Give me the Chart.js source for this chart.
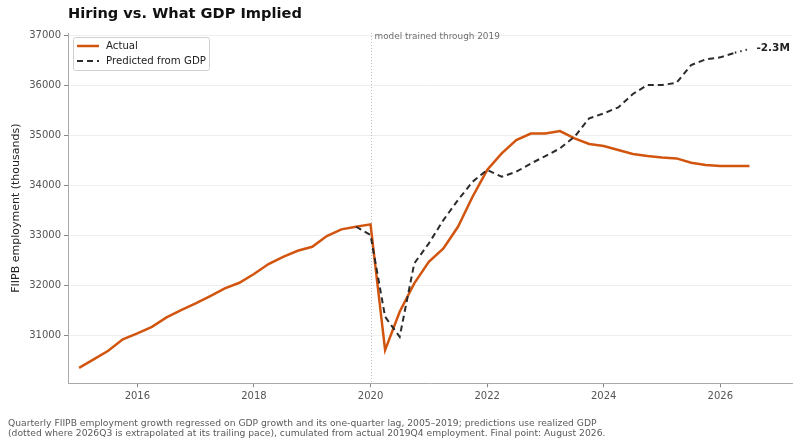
<!DOCTYPE html>
<html>
<head>
<meta charset="utf-8">
<title>Hiring vs. What GDP Implied</title>
<script src="https://cdn.jsdelivr.net/npm/chart.js@4.4.1/dist/chart.umd.min.js"></script>
<style>
  html, body { margin: 0; padding: 0; background: #fff; }
  canvas { display: block; }
</style>
</head>
<body>
<canvas id="chart" width="800" height="447"></canvas>
<script>
(function () {
  'use strict';

  /* Data (thousands of jobs, quarterly) */
  var ACTUAL_QUARTERS = [
    '2015Q1','2015Q2','2015Q3','2015Q4','2016Q1','2016Q2','2016Q3','2016Q4',
    '2017Q1','2017Q2','2017Q3','2017Q4','2018Q1','2018Q2','2018Q3','2018Q4',
    '2019Q1','2019Q2','2019Q3','2019Q4','2020Q1','2020Q2','2020Q3','2020Q4',
    '2021Q1','2021Q2','2021Q3','2021Q4','2022Q1','2022Q2','2022Q3','2022Q4',
    '2023Q1','2023Q2','2023Q3','2023Q4','2024Q1','2024Q2','2024Q3','2024Q4',
    '2025Q1','2025Q2','2025Q3','2025Q4','2026Q1','2026Q2','2026Q3'
  ];
  var ACTUAL = [
    30346, 30514, 30686, 30914, 31034, 31166, 31354, 31500,
    31634, 31780, 31934, 32046, 32220, 32420, 32566, 32686,
    32766, 32980, 33114, 33166, 33214, 30700, 31466, 32033,
    32466, 32733, 33166, 33766, 34300, 34633, 34900, 35030,
    35033, 35080, 34933, 34820, 34780, 34700, 34620, 34580,
    34553, 34533, 34446, 34400, 34380, 34380, 34380
  ];
  var PREDICTED_QUARTERS = [
    '2019Q4','2020Q1','2020Q2','2020Q3','2020Q4',
    '2021Q1','2021Q2','2021Q3','2021Q4','2022Q1','2022Q2','2022Q3','2022Q4',
    '2023Q1','2023Q2','2023Q3','2023Q4','2024Q1','2024Q2','2024Q3','2024Q4',
    '2025Q1','2025Q2','2025Q3','2025Q4','2026Q1','2026Q2','2026Q3'
  ];
  var PREDICTED = [
    33166, 33000, 31366, 30966, 32433,
    32833, 33300, 33700, 34066, 34300, 34166, 34266, 34430,
    34580, 34733, 34966, 35333, 35433, 35553, 35820, 36000,
    36000, 36046, 36400, 36513, 36553, 36646, 36720
  ];
  var X_TICKS = [2016, 2018, 2020, 2022, 2024, 2026];
  var Y_TICKS = [31000, 32000, 33000, 34000, 35000, 36000, 37000];
  var GAP_LABEL = '-2.3M';
  var CAPTION = [
    'Quarterly FIIPB employment growth regressed on GDP growth and its one-quarter lag, 2005\u20132019; predictions use realized GDP',
    '(dotted where 2026Q3 is extrapolated at its trailing pace), cumulated from actual 2019Q4 employment. Final point: August 2026.'
  ];

  var ORANGE = '#d2550f';
  var DARK = '#2b2b2b';
  var FONT = "'DejaVu Sans', sans-serif";

  // '2019Q4' -> 2019.75
  function quarterToYear(q) {
    return parseInt(q.slice(0, 4), 10) + (parseInt(q.slice(5), 10) - 1) / 4;
  }
  function toPoints(quarters, values) {
    return quarters.map(function (q, i) { return { x: quarterToYear(q), y: values[i] }; });
  }

  var lastPred = PREDICTED.length - 1;

  var overlay = {
    id: 'overlay',
    beforeDatasetsDraw: function (chart) {
      var c = chart.ctx, a = chart.chartArea;
      var x = Math.round(chart.scales.x.getPixelForValue(2020)) + 0.5;
      c.save();
      c.strokeStyle = '#bdbdbd';
      c.lineWidth = 1;
      c.setLineDash([1, 2]);
      c.beginPath(); c.moveTo(x, a.top); c.lineTo(x, a.bottom); c.stroke();
      c.setLineDash([]);
      c.fillStyle = '#6e6e6e';
      c.font = '8.9px ' + FONT;
      c.textBaseline = 'top';
      c.fillText('model trained through 2019', x + 3, a.top - 1);
      c.restore();
    },
    afterDraw: function (chart) {
      var c = chart.ctx;
      c.save();
      // title
      c.fillStyle = '#111';
      c.font = 'bold 14.6px ' + FONT;
      c.textBaseline = 'middle';
      c.fillText('Hiring vs. What GDP Implied', 68, 14);

      // legend
      c.fillStyle = 'rgba(255,255,255,0.85)';
      c.strokeStyle = '#d0d0d0';
      c.lineWidth = 1;
      c.beginPath();
      c.roundRect(73.5, 37.5, 136, 33, 2);
      c.fill(); c.stroke();
      c.lineWidth = 2.5; c.strokeStyle = ORANGE;
      c.beginPath(); c.moveTo(77, 46); c.lineTo(99, 46); c.stroke();
      c.lineWidth = 2; c.strokeStyle = DARK; c.setLineDash([6, 4]);
      c.beginPath(); c.moveTo(77, 61); c.lineTo(99, 61); c.stroke();
      c.setLineDash([]);
      c.fillStyle = '#222';
      c.font = '10.2px ' + FONT;
      c.fillText('Actual', 106, 46);
      c.fillText('Predicted from GDP', 106, 61);

      // gap label at the last predicted point
      var px = chart.scales.x.getPixelForValue(quarterToYear(PREDICTED_QUARTERS[lastPred]));
      var py = chart.scales.y.getPixelForValue(PREDICTED[lastPred]);
      c.fillStyle = '#222';
      c.font = 'bold 10.5px ' + FONT;
      c.fillText(GAP_LABEL, px + 7, py - 1);

      // caption
      c.fillStyle = '#5a5a5a';
      c.font = '9.2px ' + FONT;
      c.fillText(CAPTION[0], 8, 423.5);
      c.fillText(CAPTION[1], 8, 434);
      c.restore();
    }
  };

  var tickFont = { family: FONT, size: 10 };

  new Chart(document.getElementById('chart').getContext('2d'), {
    type: 'line',
    data: {
      datasets: [
        {
          label: 'Actual',
          data: toPoints(ACTUAL_QUARTERS, ACTUAL),
          borderColor: ORANGE, borderWidth: 2.5,
          pointRadius: 0, tension: 0, order: 1
        },
        {
          label: 'Predicted from GDP',
          data: toPoints(PREDICTED_QUARTERS, PREDICTED),
          borderColor: DARK, borderWidth: 2, borderDash: [6, 4],
          pointRadius: 0, tension: 0, order: 0,
          segment: {
            borderDash: function (ctx) { return ctx.p1DataIndex === lastPred ? [1.5, 4] : undefined; }
          }
        }
      ]
    },
    options: {
      responsive: false,
      animation: false,
      layout: { padding: { top: 33, right: 8, bottom: 0, left: 6 } },
      plugins: { legend: { display: false }, tooltip: { enabled: false }, title: { display: false } },
      scales: {
        x: {
          type: 'linear', min: 2014.81, max: 2027.23,
          afterBuildTicks: function (s) { s.ticks = X_TICKS.map(function (v) { return { value: v }; }); },
          afterFit: function (s) { s.height = 63.7; },
          ticks: { color: '#555', font: tickFont, padding: 3, maxRotation: 0, callback: function (v) { return String(v); } },
          grid: { drawOnChartArea: false, tickLength: 4, color: '#888' },
          border: { color: '#aaa', width: 1 }
        },
        y: {
          min: 30036, max: 37040,
          afterBuildTicks: function (s) { s.ticks = Y_TICKS.map(function (v) { return { value: v }; }); },
          afterFit: function (s) { s.width = 62; },
          ticks: { color: '#555', font: tickFont, padding: 3, callback: function (v) { return String(v); } },
          grid: { color: '#eeeeee', tickLength: 4, tickColor: '#888' },
          border: { color: '#aaa', width: 1 },
          title: { display: true, text: 'FIIPB employment (thousands)', color: '#222', font: { family: FONT, size: 11 }, padding: { top: 4, bottom: 4 } }
        }
      }
    },
    plugins: [overlay]
  });
})();
</script>
</body>
</html>
